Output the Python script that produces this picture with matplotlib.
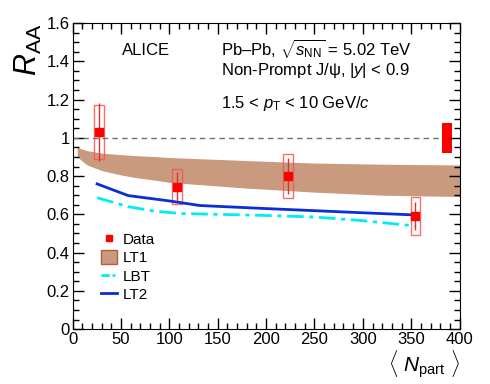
import matplotlib
matplotlib.use("Agg")
import matplotlib.pyplot as plt
from matplotlib.patches import Rectangle, Patch
from matplotlib.lines import Line2D
from matplotlib.ticker import MultipleLocator

plt.rcParams['font.family'] = ['Liberation Sans', 'DejaVu Sans']
plt.rcParams['mathtext.fontset'] = 'custom'
plt.rcParams['mathtext.rm'] = 'Liberation Sans'
plt.rcParams['mathtext.it'] = 'Liberation Sans:italic'

###### dados (ALICE non-prompt J/psi)
npart = [27.5, 108.3, 223, 354.3]
raa = [1.03, 0.745, 0.80, 0.592]
stat = [0.15, 0.074, 0.094, 0.074]
syst = [0.14, 0.092, 0.116, 0.099]
box_hw = 5.0

glob_x = [382, 392]
glob_unc = 0.08

###### modelos
lt1_x = [4.8, 10, 15, 30, 50, 65, 85, 100, 180, 250, 320, 400]
lt1_hi = [0.951, 0.941, 0.933, 0.920, 0.912, 0.907, 0.902, 0.897, 0.881, 0.868, 0.862, 0.858]
lt1_lo = [0.902, 0.878, 0.858, 0.829, 0.806, 0.792, 0.779, 0.767, 0.737, 0.716, 0.700, 0.693]

lbt_x = [25.4, 57.5, 83, 111, 150, 200, 250, 297, 355]
lbt_y = [0.687, 0.640, 0.618, 0.604, 0.600, 0.594, 0.586, 0.568, 0.539]

lt2_x = [25.4, 57.5, 100, 131.6, 200, 255, 300, 352]
lt2_y = [0.759, 0.698, 0.670, 0.646, 0.630, 0.618, 0.608, 0.597]

band_col = '#c99a7e'

fig = plt.figure(figsize=(4.9, 3.84), dpi=100)
ax = fig.add_axes([0.148, 0.143, 0.790, 0.797])

####### linha em 1
ax.plot([0, 380], [1, 1], ls=(0, (4, 3)), color='#707070', lw=1)

####### banda LT1 e curvas
ax.fill_between(lt1_x, lt1_lo, lt1_hi, color=band_col, lw=0)
ax.plot(lbt_x, lbt_y, color='#00eeee', lw=2, ls=(0, (6, 2, 1.5, 2)))
ax.plot(lt2_x, lt2_y, color='#0a2ed4', lw=2)

####### incertezas sistematicas (caixas)
for x, y, s in zip(npart, raa, syst):
    ax.add_patch(Rectangle((x - box_hw, y - s), 2 * box_hw, 2 * s,
                           facecolor='none', edgecolor='#ff5050', lw=1, alpha=0.85))
ax.errorbar(npart, raa, yerr=stat, fmt='none', ecolor='#e03030', elinewidth=1, capsize=0)
ax.plot(npart, raa, 's', color='red', ms=5.2, mec='red')

####### incerteza global
ax.add_patch(Rectangle((glob_x[0], 1 - glob_unc), glob_x[1] - glob_x[0], 2 * glob_unc,
                       facecolor='red', edgecolor='red', lw=0))

ax.set_xlim(0, 400)
ax.set_ylim(0, 1.6)
ax.xaxis.set_major_locator(MultipleLocator(50))
ax.xaxis.set_minor_locator(MultipleLocator(10))
ax.yaxis.set_major_locator(MultipleLocator(0.2))
ax.yaxis.set_minor_locator(MultipleLocator(0.05))
ax.tick_params(which='both', direction='in', top=True, right=True, labelsize=12, pad=2)
ax.tick_params(which='major', length=8, width=1)
ax.tick_params(which='minor', length=4, width=1)
ax.set_yticks([0, 0.2, 0.4, 0.6, 0.8, 1, 1.2, 1.4, 1.6])
ax.set_yticklabels(['0', '0.2', '0.4', '0.6', '0.8', '1', '1.2', '1.4', '1.6'])

ax.set_ylabel(r'$R_{\rm AA}$', fontsize=22, loc='top', labelpad=2)
ax.set_xlabel(r'$\langle\ N_{\rm part}\ \rangle$', fontsize=15, loc='right', labelpad=1)

####### textos
ax.text(0.127, 0.895, 'ALICE', transform=ax.transAxes, fontsize=12, va='baseline')
ax.text(0.383, 0.895, r'Pb–Pb, $\sqrt{s_{\rm NN}}$ = 5.02 TeV', transform=ax.transAxes,
        fontsize=12, va='baseline')
ax.text(0.383, 0.830, 'Non-Prompt J/ψ, |$y$| < 0.9', transform=ax.transAxes,
        fontsize=12, va='baseline')
ax.text(0.383, 0.722, r'1.5 < $p_{\rm T}$ < 10 GeV/$c$', transform=ax.transAxes,
        fontsize=12, va='baseline')

####### legenda
handles = [Line2D([], [], marker='s', color='red', ls='none', ms=5),
           Patch(facecolor=band_col, edgecolor='#b0603a', lw=1),
           Line2D([], [], color='#00eeee', lw=2, ls=(0, (3, 1, 1, 1))),
           Line2D([], [], color='#0a2ed4', lw=2)]
labels = ['Data', 'LT1', 'LBT', 'LT2']
ax.legend(handles, labels, loc='upper left', bbox_to_anchor=(101 / 490, 1 - 232 / 384),
          bbox_transform=fig.transFigure, frameon=False, fontsize=11,
          handlelength=1.05, handleheight=1.0, handletextpad=0.35,
          labelspacing=0.22, borderpad=0, borderaxespad=0)

fig.savefig('out.png', dpi=100)
